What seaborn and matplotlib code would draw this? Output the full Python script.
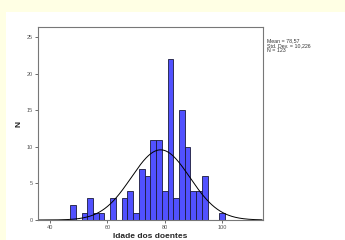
import numpy as np
import pandas as pd
import matplotlib
matplotlib.use("Agg")
import matplotlib.pyplot as plt
import seaborn as sns
from matplotlib.patches import Rectangle

# Data: histogram bins (left edges, width 2) and counts
bin_left = [47, 51, 53, 55, 57, 61, 65, 67, 69, 71, 73, 75, 77, 79, 81, 83, 85, 87, 89, 91, 93, 99]
counts = [2, 1, 3, 1, 1, 3, 3, 4, 1, 7, 6, 11, 11, 4, 22, 3, 15, 10, 4, 4, 6, 1]
bin_width = 2
mean_val = 78.57
sd_val = 10.226
n_val = 123
x_ticks = [40, 60, 80, 100]
y_ticks = [0, 5, 10, 15, 20, 25]
y_ticklabels = ["0", "5", "10", "15", "20", "25"]

sns.set_style("white")
plt.rcParams['font.family'] = ['Liberation Sans', 'DejaVu Sans']

fig = plt.figure(figsize=(3.45, 2.40), dpi=100)
fig.patch.set_facecolor("#FFFFE4")
fig.patches.append(Rectangle((6 / 345, 0), 1, 1 - 12 / 240, transform=fig.transFigure,
                             facecolor="white", edgecolor="none", zorder=-5))

ax = fig.add_axes([38 / 345, 20 / 240, 225 / 345, 193 / 240])
ax.set_zorder(2)
ax.set_facecolor("white")

df = pd.DataFrame({"center": [b + bin_width / 2 for b in bin_left], "count": counts})
sns.histplot(data=df, x="center", weights="count", binwidth=bin_width, binrange=(47, 101),
             ax=ax, color="#5151FF", alpha=1.0, edgecolor="#1a1a3a", linewidth=0.6)

xs = np.linspace(36, 114, 400)
ys = n_val * bin_width / (sd_val * np.sqrt(2 * np.pi)) * np.exp(-0.5 * ((xs - mean_val) / sd_val) ** 2)
sns.lineplot(x=xs, y=ys, ax=ax, color="black", linewidth=0.7)

ax.set_xlim(35.8, 114.3)
ax.set_ylim(0, 26.4)
ax.set_xticks(x_ticks)
ax.set_xticklabels([str(t) for t in x_ticks])
ax.set_yticks(y_ticks)
ax.set_yticklabels(y_ticklabels)
ax.tick_params(axis="both", labelsize=4, colors="#555555", length=2, width=0.6, pad=1.5,
               direction="out", bottom=True, left=True)
for sp in ax.spines.values():
    sp.set_color("#777777")
    sp.set_linewidth(0.8)

ax.set_xlabel("Idade dos doentes", fontsize=6, fontweight="bold", labelpad=2)
ax.set_ylabel("N", fontsize=6, fontweight="bold", labelpad=3)

fig.text(267 / 345, 1 - 38 / 240, "Mean = 78,57\nStd. Dev. = 10,226\nN = 123",
         fontsize=3.8, va="top", ha="left", color="#333333", linespacing=1.0)

fig.savefig("out.png", dpi=100, facecolor=fig.get_facecolor())
